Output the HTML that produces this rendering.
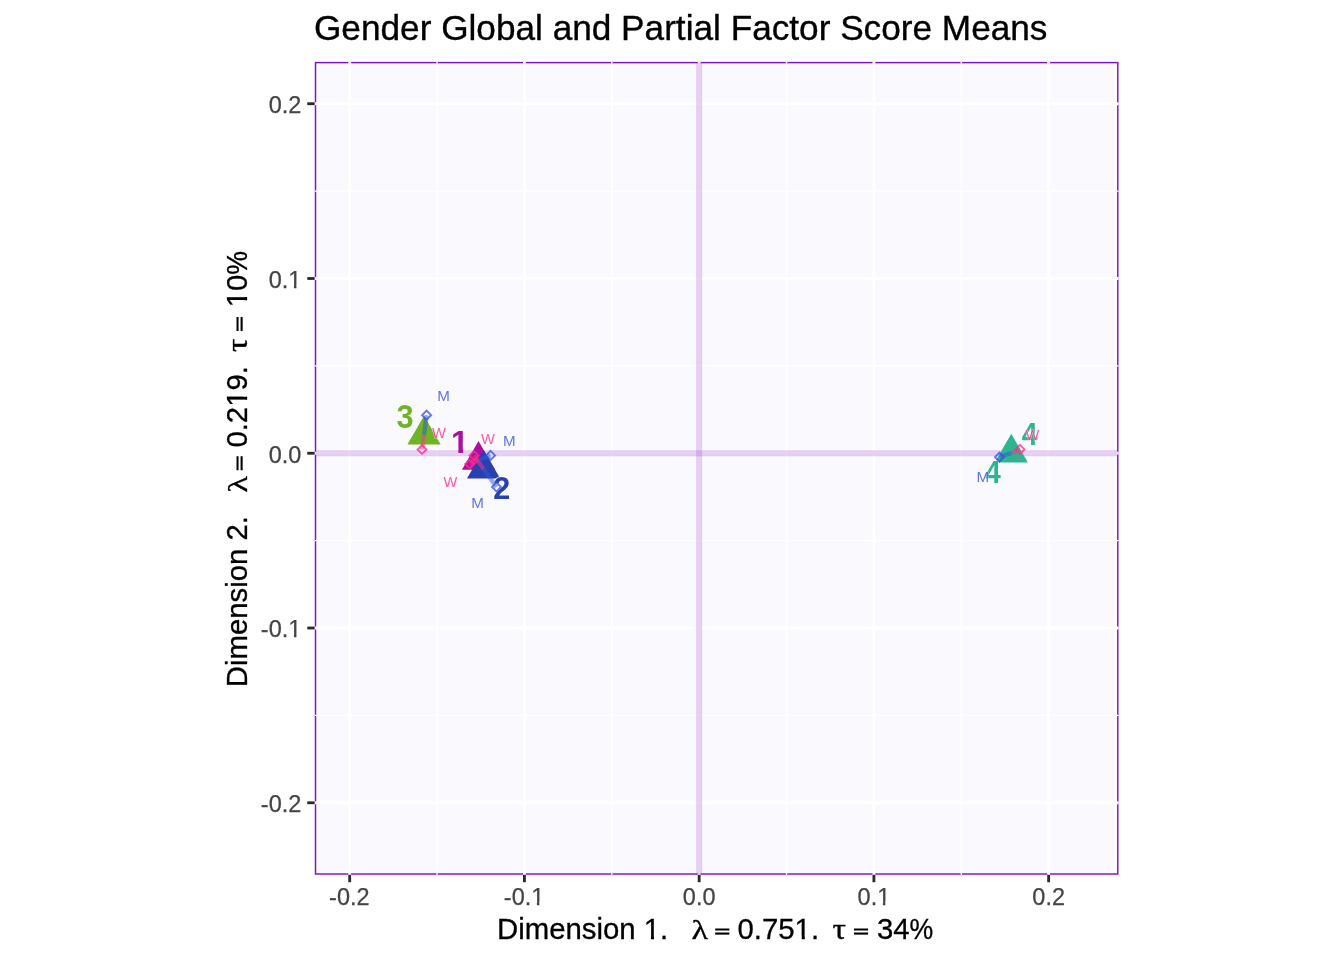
<!DOCTYPE html>
<html lang="en"><head><meta charset="utf-8"><title>Gender Global and Partial Factor Score Means</title>
<style>html,body{margin:0;padding:0;background:#fff;}body{width:1344px;height:960px;overflow:hidden;}svg{display:block;}text{font-family:"Liberation Sans",Arial,Helvetica,sans-serif;}.sym{font-family:"Liberation Serif","DejaVu Serif",serif;}</style></head><body>
<svg width="1344" height="960" viewBox="0 0 1344 960">
<rect x="0" y="0" width="1344" height="960" fill="#fff"/>
<rect x="315.5" y="62.6" width="802.30" height="811.40" fill="#FAF9FE"/>
<rect x="315.5" y="62.6" width="802.30" height="811.40" fill="none" stroke="#7D12C2" stroke-width="1.45"/>
<g stroke="#fff" fill="none">
<line x1="437.06" x2="437.06" y1="61.800000000000004" y2="874.8" stroke-width="1.42"/>
<line y1="715.39" y2="715.39" x1="314.7" x2="1118.6" stroke-width="1.42"/>
<line x1="611.80" x2="611.80" y1="61.800000000000004" y2="874.8" stroke-width="1.42"/>
<line y1="540.63" y2="540.63" x1="314.7" x2="1118.6" stroke-width="1.42"/>
<line x1="786.54" x2="786.54" y1="61.800000000000004" y2="874.8" stroke-width="1.42"/>
<line y1="365.87" y2="365.87" x1="314.7" x2="1118.6" stroke-width="1.42"/>
<line x1="961.28" x2="961.28" y1="61.800000000000004" y2="874.8" stroke-width="1.42"/>
<line y1="191.11" y2="191.11" x1="314.7" x2="1118.6" stroke-width="1.42"/>
<line x1="349.69" x2="349.69" y1="61.800000000000004" y2="874.8" stroke-width="2.85"/>
<line y1="802.77" y2="802.77" x1="314.7" x2="1118.6" stroke-width="2.85"/>
<line x1="524.43" x2="524.43" y1="61.800000000000004" y2="874.8" stroke-width="2.85"/>
<line y1="628.01" y2="628.01" x1="314.7" x2="1118.6" stroke-width="2.85"/>
<line x1="699.17" x2="699.17" y1="61.800000000000004" y2="874.8" stroke-width="2.85"/>
<line y1="453.25" y2="453.25" x1="314.7" x2="1118.6" stroke-width="2.85"/>
<line x1="873.91" x2="873.91" y1="61.800000000000004" y2="874.8" stroke-width="2.85"/>
<line y1="278.49" y2="278.49" x1="314.7" x2="1118.6" stroke-width="2.85"/>
<line x1="1048.65" x2="1048.65" y1="61.800000000000004" y2="874.8" stroke-width="2.85"/>
<line y1="103.73" y2="103.73" x1="314.7" x2="1118.6" stroke-width="2.85"/>
</g>
<line x1="699.17" x2="699.17" y1="62.6" y2="874.0" stroke="rgba(153,50,204,0.23)" stroke-width="6.0"/>
<line y1="453.25" y2="453.25" x1="315.5" x2="1117.8" stroke="rgba(153,50,204,0.23)" stroke-width="6.0"/>
<defs><clipPath id="c1"><path d="M-2,-40 H30 V-4.08 H11.46 V3 H6.88 V-4.08 H-2 Z"/></clipPath></defs>
<polygon points="478.50,441.03 495.10,469.78 461.90,469.78" fill="#AA109F"/>
<polygon points="483.56,449.73 500.16,478.48 466.96,478.48" fill="#2841AF"/>
<polygon points="424.05,415.83 440.65,444.58 407.45,444.58" fill="#70B325"/>
<polygon points="1011.30,433.83 1027.90,462.58 994.70,462.58" fill="#2DB491"/>
<text transform="translate(451.08,452.65) scale(1.047,1.025)" font-size="30.35" font-weight="bold" fill="#AA109F" stroke="#fff" stroke-opacity="0.85" stroke-width="1.5" paint-order="stroke" clip-path="url(#c1)">1</text>
<text transform="translate(493.14,498.80) scale(1.009,1.019)" font-size="30.35" font-weight="bold" fill="#2841AF" stroke="#fff" stroke-opacity="0.85" stroke-width="1.5" paint-order="stroke">2</text>
<text transform="translate(396.54,427.99) scale(1.014,1.068)" font-size="30.35" font-weight="bold" fill="#70B325" stroke="#fff" stroke-opacity="0.85" stroke-width="1.5" paint-order="stroke">3</text>
<text transform="translate(1021.72,444.85) scale(0.935,1.020)" font-size="30.35" font-weight="bold" fill="#2DB491" stroke="#fff" stroke-opacity="0.85" stroke-width="1.5" paint-order="stroke">4</text>
<text transform="translate(985.02,482.80) scale(0.935,1.020)" font-size="30.35" font-weight="bold" fill="#2DB491" stroke="#fff" stroke-opacity="0.85" stroke-width="1.5" paint-order="stroke">4</text>
<line x1="478.50" y1="460.20" x2="490.60" y2="455.40" stroke="#3653DB" stroke-opacity="0.5" stroke-width="4.27" stroke-linecap="butt"/>
<line x1="478.50" y1="460.20" x2="469.70" y2="464.00" stroke="#FF2E8E" stroke-opacity="0.5" stroke-width="4.27" stroke-linecap="butt"/>
<line x1="483.56" y1="468.90" x2="496.50" y2="486.95" stroke="#3653DB" stroke-opacity="0.5" stroke-width="4.27" stroke-linecap="butt"/>
<line x1="483.56" y1="468.90" x2="474.00" y2="455.60" stroke="#FF2E8E" stroke-opacity="0.5" stroke-width="4.27" stroke-linecap="butt"/>
<line x1="424.05" y1="435.00" x2="426.60" y2="415.20" stroke="#3653DB" stroke-opacity="0.5" stroke-width="4.27" stroke-linecap="butt"/>
<line x1="424.05" y1="435.00" x2="422.00" y2="449.50" stroke="#FF2E8E" stroke-opacity="0.5" stroke-width="4.27" stroke-linecap="butt"/>
<line x1="1011.30" y1="453.00" x2="999.50" y2="457.10" stroke="#3653DB" stroke-opacity="0.5" stroke-width="4.27" stroke-linecap="butt"/>
<line x1="1011.30" y1="453.00" x2="1020.00" y2="449.40" stroke="#FF2E8E" stroke-opacity="0.5" stroke-width="4.27" stroke-linecap="butt"/>
<polygon points="490.60,450.90 495.10,455.40 490.60,459.90 486.10,455.40" fill="none" stroke="#3653DB" stroke-opacity="0.78" stroke-width="1.89"/>
<polygon points="469.70,459.50 474.20,464.00 469.70,468.50 465.20,464.00" fill="none" stroke="#FF2E8E" stroke-opacity="0.78" stroke-width="1.89"/>
<polygon points="496.50,482.45 501.00,486.95 496.50,491.45 492.00,486.95" fill="none" stroke="#3653DB" stroke-opacity="0.78" stroke-width="1.89"/>
<polygon points="474.00,451.10 478.50,455.60 474.00,460.10 469.50,455.60" fill="none" stroke="#FF2E8E" stroke-opacity="0.78" stroke-width="1.89"/>
<polygon points="426.60,410.70 431.10,415.20 426.60,419.70 422.10,415.20" fill="none" stroke="#3653DB" stroke-opacity="0.78" stroke-width="1.89"/>
<polygon points="422.00,445.00 426.50,449.50 422.00,454.00 417.50,449.50" fill="none" stroke="#FF2E8E" stroke-opacity="0.78" stroke-width="1.89"/>
<polygon points="999.50,452.60 1004.00,457.10 999.50,461.60 995.00,457.10" fill="none" stroke="#3653DB" stroke-opacity="0.78" stroke-width="1.89"/>
<polygon points="1020.00,444.90 1024.50,449.40 1020.00,453.90 1015.50,449.40" fill="none" stroke="#FF2E8E" stroke-opacity="0.78" stroke-width="1.89"/>
<text transform="translate(443.45,400.85) scale(1.0,0.995)" font-size="15.17" fill="#3653DB" fill-opacity="0.8" stroke="#fff" stroke-opacity="0.55" stroke-width="1.0" paint-order="stroke" text-anchor="middle">M</text>
<text transform="translate(438.95,437.65) scale(0.965,0.995)" font-size="15.17" fill="#FF2E8E" fill-opacity="0.8" stroke="#fff" stroke-opacity="0.55" stroke-width="1.0" paint-order="stroke" text-anchor="middle">W</text>
<text transform="translate(487.90,443.70) scale(0.965,0.995)" font-size="15.17" fill="#FF2E8E" fill-opacity="0.8" stroke="#fff" stroke-opacity="0.55" stroke-width="1.0" paint-order="stroke" text-anchor="middle">W</text>
<text transform="translate(509.35,445.80) scale(1.0,0.995)" font-size="15.17" fill="#3653DB" fill-opacity="0.8" stroke="#fff" stroke-opacity="0.55" stroke-width="1.0" paint-order="stroke" text-anchor="middle">M</text>
<text transform="translate(450.40,486.65) scale(0.965,0.995)" font-size="15.17" fill="#FF2E8E" fill-opacity="0.8" stroke="#fff" stroke-opacity="0.55" stroke-width="1.0" paint-order="stroke" text-anchor="middle">W</text>
<text transform="translate(477.45,507.75) scale(1.0,0.995)" font-size="15.17" fill="#3653DB" fill-opacity="0.8" stroke="#fff" stroke-opacity="0.55" stroke-width="1.0" paint-order="stroke" text-anchor="middle">M</text>
<text transform="translate(982.90,481.75) scale(1.0,0.995)" font-size="15.17" fill="#3653DB" fill-opacity="0.8" stroke="#fff" stroke-opacity="0.55" stroke-width="1.0" paint-order="stroke" text-anchor="middle">M</text>
<text transform="translate(1032.50,439.75) scale(0.965,0.995)" font-size="15.17" fill="#FF2E8E" fill-opacity="0.8" stroke="#fff" stroke-opacity="0.55" stroke-width="1.0" paint-order="stroke" text-anchor="middle">W</text>
<g stroke="#2b2b2b" stroke-width="2.85" fill="none">
<line x1="349.69" x2="349.69" y1="874.9" y2="882.23"/>
<line y1="802.77" y2="802.77" x1="314.6" x2="307.27"/>
<line x1="524.43" x2="524.43" y1="874.9" y2="882.23"/>
<line y1="628.01" y2="628.01" x1="314.6" x2="307.27"/>
<line x1="699.17" x2="699.17" y1="874.9" y2="882.23"/>
<line y1="453.25" y2="453.25" x1="314.6" x2="307.27"/>
<line x1="873.91" x2="873.91" y1="874.9" y2="882.23"/>
<line y1="278.49" y2="278.49" x1="314.6" x2="307.27"/>
<line x1="1048.65" x2="1048.65" y1="874.9" y2="882.23"/>
<line y1="103.73" y2="103.73" x1="314.6" x2="307.27"/>
</g>
<g fill="#444" stroke="#444" stroke-width="0.25">
<text transform="translate(329.07,904.60)" font-size="23.47">-0.2</text>
<text transform="translate(260.86,812.17)" font-size="23.47">-0.2</text>
<clipPath id="k1"><path clip-rule="evenodd" d="M-900,-900 H2500 V900 H-900 Z M27.68,-2.75 H33.07 V2 H27.68 Z M35.59,-2.75 H40.80 V2 H35.59 Z"/></clipPath>
<text transform="translate(503.81,904.60)" font-size="23.47" clip-path="url(#k1)">-0.1</text>
<clipPath id="k2"><path clip-rule="evenodd" d="M-900,-900 H2500 V900 H-900 Z M27.68,-2.75 H33.07 V2 H27.68 Z M35.59,-2.75 H40.80 V2 H35.59 Z"/></clipPath>
<text transform="translate(260.86,637.41)" font-size="23.47" clip-path="url(#k2)">-0.1</text>
<text transform="translate(682.86,904.60)" font-size="23.47">0.0</text>
<text transform="translate(268.67,462.65)" font-size="23.47">0.0</text>
<clipPath id="k3"><path clip-rule="evenodd" d="M-900,-900 H2500 V900 H-900 Z M19.86,-2.75 H25.26 V2 H19.86 Z M27.77,-2.75 H32.98 V2 H27.77 Z"/></clipPath>
<text transform="translate(857.60,904.60)" font-size="23.47" clip-path="url(#k3)">0.1</text>
<clipPath id="k4"><path clip-rule="evenodd" d="M-900,-900 H2500 V900 H-900 Z M19.86,-2.75 H25.26 V2 H19.86 Z M27.77,-2.75 H32.98 V2 H27.77 Z"/></clipPath>
<text transform="translate(268.67,287.89)" font-size="23.47" clip-path="url(#k4)">0.1</text>
<text transform="translate(1032.34,904.60)" font-size="23.47">0.2</text>
<text transform="translate(268.67,113.13)" font-size="23.47">0.2</text>
</g>
<text x="314.0" y="39.8" font-size="35.2" fill="#000" stroke="#000" stroke-width="0.35">Gender Global and Partial Factor Score Means</text>
<g fill="#000" stroke="#000" stroke-width="0.3" transform="translate(499.4,938.8)">
<clipPath id="k5"><path clip-rule="evenodd" d="M-900,-900 H2500 V900 H-900 Z M147.44,-3.19 H153.86 V2 H147.44 Z M156.89,-3.19 H163.09 V2 H156.89 Z"/></clipPath>
<text transform="translate(-2.30,0.00)" font-size="29.33" clip-path="url(#k5)">Dimension 1.</text>
<text class="sym" font-size="29.33" transform="translate(192.2,0) scale(1.17,0.955)">λ</text>
<text class="sym" font-size="29.33" transform="translate(215.0,-0.15) scale(0.94,0.685)" stroke-width="1.45">=</text>
<clipPath id="k6"><path clip-rule="evenodd" d="M-900,-900 H2500 V900 H-900 Z M57.82,-3.19 H64.24 V2 H57.82 Z M67.27,-3.19 H73.46 V2 H67.27 Z"/></clipPath>
<text transform="translate(238.10,0.00)" font-size="29.33" clip-path="url(#k6)">0.751.</text>
<text class="sym" font-size="29.33" transform="translate(333.0,0) scale(1.15,0.98)">τ</text>
<text class="sym" font-size="29.33" transform="translate(353.8,-0.15) scale(0.94,0.685)" stroke-width="1.45">=</text>
<text transform="translate(377.60,0.00)" font-size="29.33">34</text>
<text font-size="29.33" transform="translate(410.22,0) scale(0.91,1)">%</text>
</g>
<g fill="#000" stroke="#000" stroke-width="0.3" transform="translate(246.8,684.9) rotate(-90)">
<text transform="translate(-2.30,0.00)" font-size="29.33">Dimension 2.</text>
<text class="sym" font-size="29.33" transform="translate(192.2,0) scale(1.17,0.955)">λ</text>
<text class="sym" font-size="29.33" transform="translate(214.0,-0.15) scale(0.94,0.685)" stroke-width="1.45">=</text>
<clipPath id="k7"><path clip-rule="evenodd" d="M-900,-900 H2500 V900 H-900 Z M41.51,-3.19 H47.93 V2 H41.51 Z M50.96,-3.19 H57.15 V2 H50.96 Z"/></clipPath>
<text transform="translate(237.30,0.00)" font-size="29.33" clip-path="url(#k7)">0.219.</text>
<text class="sym" font-size="29.33" transform="translate(333.0,0) scale(1.15,0.98)">τ</text>
<text class="sym" font-size="29.33" transform="translate(353.2,-0.15) scale(0.94,0.685)" stroke-width="1.45">=</text>
<clipPath id="k8"><path clip-rule="evenodd" d="M-900,-900 H2500 V900 H-900 Z M0.73,-3.19 H7.16 V2 H0.73 Z M10.19,-3.19 H16.38 V2 H10.19 Z"/></clipPath>
<text transform="translate(377.60,0.00)" font-size="29.33" clip-path="url(#k8)">10</text>
<text font-size="29.33" transform="translate(410.22,0) scale(0.91,1)">%</text>
</g>
</svg></body></html>
